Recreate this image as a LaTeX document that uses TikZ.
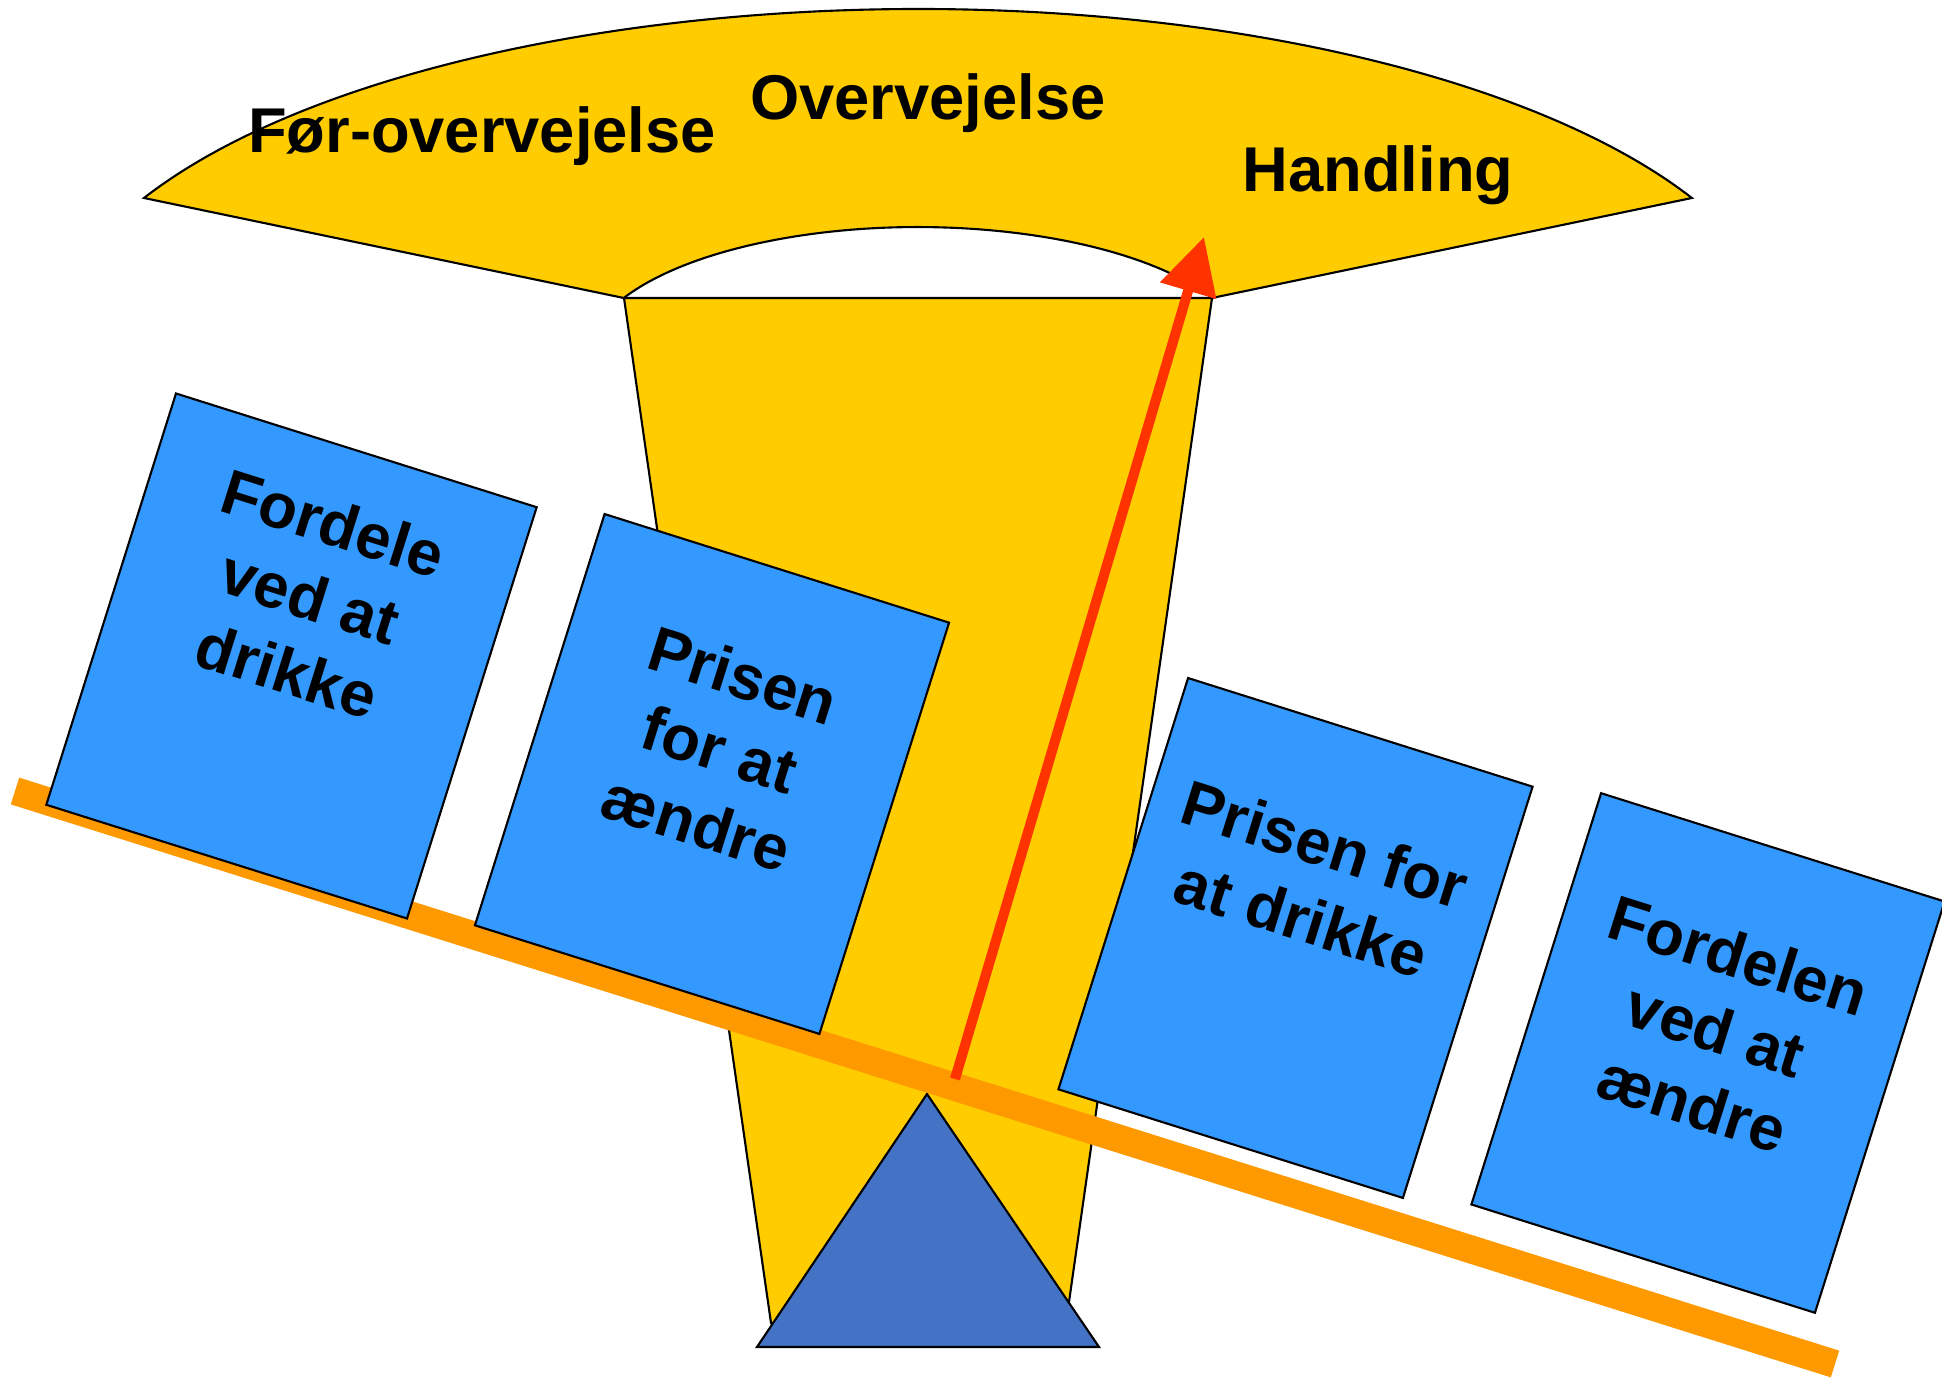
\documentclass[tikz,border=0pt]{standalone}
\usepackage{fontspec}
\setmainfont{Liberation Sans}
\usetikzlibrary{arrows.meta,calc}

\definecolor{fanyellow}{HTML}{FFCC00}
\definecolor{boxblue}{HTML}{3399FF}
\definecolor{beamorange}{HTML}{FF9900}
\definecolor{arrowred}{HTML}{FF3300}
\definecolor{pivotblue}{HTML}{4472C4}

\begin{document}
\begin{tikzpicture}[x=0.01cm,y=-0.01cm,
		stage/.style={font=\fontsize{18}{22}\selectfont\bfseries, inner sep=0pt, anchor=base},
		weight/.style={draw=black, line width=0.6pt, fill=boxblue, rotate=-17.5, inner sep=0pt, minimum height=4.31cm},
		weighttext/.style={font=\fontsize{18}{22}\selectfont\bfseries, align=center, inner sep=0pt, rotate=-17.5, anchor=north}]
			\clip (0,0) rectangle (1942,1380);
			% stem of the funnel
			\draw[fill=fanyellow, line width=0.6pt] (624,298) -- (1212,298) -- (1066,1323) -- (771,1323) -- cycle;
			% the fan: elliptic ring sector round (918,358)
			\draw[fill=fanyellow, line width=0.6pt] (144,198) arc[start angle=207.3, end angle=332.7, x radius=871, y radius=349]
				-- (1212,298) arc[start angle=332.7, end angle=207.3, x radius=331, y radius=131] -- cycle;
			\node[stage] (pre) at (482,153) {Før-overvejelse};
			\node[stage] (consider) at (928,120) {Overvejelse};
			\node[stage] (act) at (1378,192) {Handling};
			% the pivot and the beam
			\draw[fill=pivotblue, line width=0.6pt] (927,1094) -- (1099,1347) -- (757,1347) -- cycle;
			\coordinate (beamL) at (15,791);
			\coordinate (beamR) at (1835,1364);
			\draw[beamorange, line width=0.28cm] (beamL) -- (beamR);
			% the four weights
			\node[weight, minimum width=3.78cm] (w1) at (291.5,656) {};
			\node[weighttext] (t1) at ($(w1.north)!0.123!(w1.south)$) {Fordele\\ved at\\drikke};
			\node[weight, minimum width=3.61cm] (w2) at (712,774) {};
			\node[weighttext] (t2) at ($(w2.north)!0.206!(w2.south)$) {Prisen\\for at\\ændre};
			\node[weight, minimum width=3.61cm] (w3) at (1295.5,938) {};
			\node[weighttext] (t3) at ($(w3.north)!0.218!(w3.south)$) {Prisen for\\at drikke};
			\node[weight, minimum width=3.60cm] (w4) at (1708,1053) {};
			\node[weighttext] (t4) at ($(w4.north)!0.209!(w4.south)$) {Fordelen\\ved at\\ændre};
			% the move towards action
			\coordinate (tail) at (955,1079);
			\coordinate (tip) at (1204,237);
			\draw[arrowred, line width=0.1cm, -{Triangle[length=0.56cm,width=0.56cm]}] (tail) -- (tip);
		\end{tikzpicture}
\end{document}
